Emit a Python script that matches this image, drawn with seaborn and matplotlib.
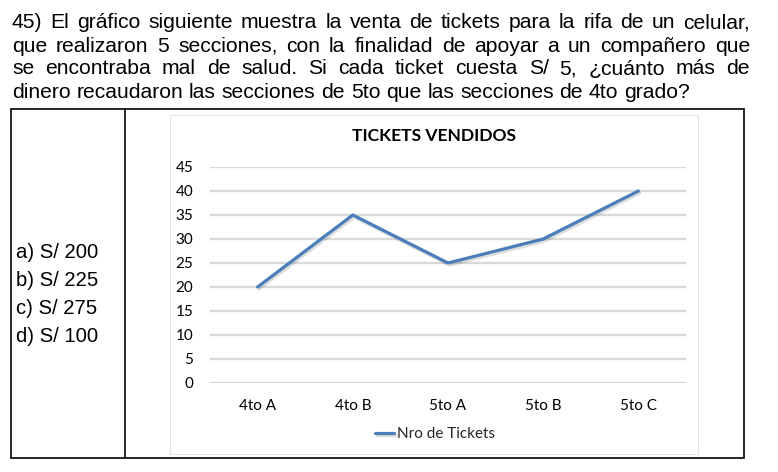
import matplotlib
matplotlib.use("Agg")
import matplotlib.pyplot as plt
import matplotlib.patheffects as pe
from matplotlib.lines import Line2D
from matplotlib.patches import Rectangle
import seaborn as sns
import pandas as pd

# data
secciones = ["4to A", "4to B", "5to A", "5to B", "5to C"]
tickets = [20, 35, 25, 30, 40]
y_ticks = [0, 5, 10, 15, 20, 25, 30, 35, 40, 45]
titulo = "TICKETS VENDIDOS"
serie = "Nro de Tickets"

pregunta = [
    "45) El gráfico siguiente muestra la venta de tickets para la rifa de un celular,",
    "que realizaron 5 secciones, con la finalidad de apoyar a un compañero que",
    "se encontraba mal de salud. Si cada ticket cuesta S/ 5, ¿cuánto más de",
    "dinero recaudaron las secciones de 5to que las secciones de 4to grado?",
]
opciones = ["a) S/ 200", "b) S/ 225", "c) S/ 275", "d) S/ 100"]

W, H = 778, 472
sns.set_theme(style="white")
plt.rcParams["font.family"] = ["Lato", "DejaVu Sans"]

fig = plt.figure(figsize=(W / 100, H / 100), dpi=100)
fig.patch.set_facecolor("white")


def fx(x):
    return x / W


def fy(y):
    return 1 - y / H


# question text, justified like the worksheet
renderer = fig.canvas.get_renderer()
left, right = 12, 750
baselines = [28.5, 51.5, 74.5, 97.5]
qfont = dict(family=["Liberation Sans", "DejaVu Sans"], size=15.2, color="black")

probe_a = fig.text(0, 0, "a b", **qfont)
probe_b = fig.text(0, 0, "ab", **qfont)
space_w = probe_a.get_window_extent(renderer).width - probe_b.get_window_extent(renderer).width
probe_a.remove()
probe_b.remove()

for i, line in enumerate(pregunta):
    words = line.split()
    objs = [fig.text(0, fy(baselines[i]), w, va="baseline", ha="left", **qfont) for w in words]
    widths = [o.get_window_extent(renderer).width for o in objs]
    if i < len(pregunta) - 1:
        gap = (right - left - sum(widths)) / (len(words) - 1)
    else:
        gap = space_w
    x = left
    for o, w in zip(objs, widths):
        o.set_x(fx(x))
        x += w + gap

# table borders
fig.add_artist(Rectangle((fx(11), fy(458)), fx(744) - fx(11), fy(109) - fy(458),
                         transform=fig.transFigure, fill=False, edgecolor="black", lw=1.2))
fig.add_artist(Line2D([fx(124.5), fx(124.5)], [fy(109), fy(458)], transform=fig.transFigure,
                      color="black", lw=1.2))

# answer options
for i, op in enumerate(opciones):
    fig.text(fx(16), fy(257.5 + i * 28.2), op, va="baseline", ha="left",
             family=["Liberation Sans", "DejaVu Sans"], size=14.6, color="black")

# chart frame
fig.add_artist(Rectangle((fx(170), fy(454)), fx(698) - fx(170), fy(115) - fy(454),
                         transform=fig.transFigure, fill=False, edgecolor="#e4e4e4", lw=0.8))

ax = fig.add_axes([fx(210), fy(383), fx(686) - fx(210), fy(167) - fy(383)])
df = pd.DataFrame({"Seccion": secciones, serie: tickets})
df["pos"] = range(len(df))
sns.lineplot(data=df, x="pos", y=serie, ax=ax, color="#4A7EBB", lw=2.3, sort=False,
             label=serie,
             path_effects=[pe.SimpleLineShadow(offset=(1, -1.5), alpha=0.15), pe.Normal()])

ax.set_xlim(-0.5, len(secciones) - 0.5)
ax.set_ylim(0, 45)
ax.set_yticks(y_ticks)
ax.set_xticks(range(len(secciones)))
ax.set_xticklabels(secciones)
ax.set_xlabel("")
ax.set_ylabel("")
for s in ax.spines.values():
    s.set_visible(False)
ax.grid(axis="y", color="#d9d9d9", lw=1.7)
ax.set_axisbelow(True)
ax.tick_params(axis="y", length=0, pad=12, labelsize=11)
ax.tick_params(axis="x", length=0, pad=11.5, labelsize=11)
for lbl in ax.get_yticklabels() + ax.get_xticklabels():
    lbl.set_color("black")

fig.text(fx(434), fy(136), titulo, ha="center", va="center", fontsize=12.6, fontweight="bold",
         color="black")

ax.legend(loc="center", bbox_to_anchor=(fx(435), fy(434)), bbox_transform=fig.transFigure,
          frameon=False, fontsize=11, handlelength=1.25, handletextpad=0.15)

fig.savefig("out.png", dpi=100)
